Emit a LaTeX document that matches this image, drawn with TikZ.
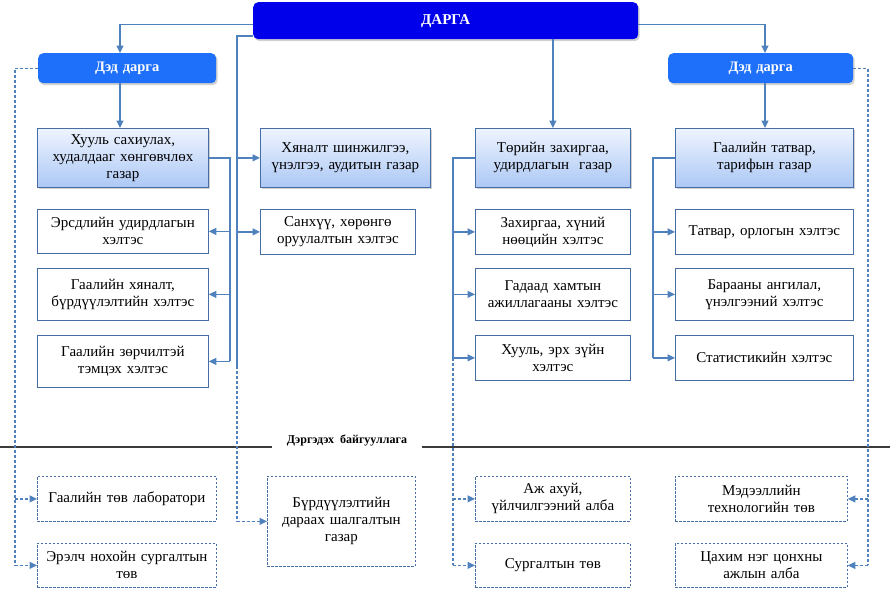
\documentclass[tikz,border=0pt]{standalone}
\usepackage{fontspec}
\setmainfont{Liberation Serif}
\usetikzlibrary{arrows.meta,shadows,calc}
\definecolor{linec}{RGB}{79,129,189}
\definecolor{boxb}{RGB}{70,110,165}
\definecolor{dargac}{RGB}{0,0,235}
\definecolor{dedc}{RGB}{30,112,250}
\definecolor{gtop}{RGB}{238,244,255}
\definecolor{gbot}{RGB}{172,200,245}
\definecolor{rulec}{RGB}{60,60,60}
\begin{document}
\begin{tikzpicture}[x=1pt,y=-1pt,
  every node/.style={inner xsep=0pt, inner ysep=2pt, align=center, anchor=north west,
    font=\fontsize{15}{17}\selectfont},
  sz/.style 2 args={text width=#1pt, minimum height=#2pt},
  shad/.style={drop shadow={opacity=0.3, fill=black!60, shadow xshift=1.5pt, shadow yshift=-2pt}},
  boss/.style={rounded corners=5pt, fill=dargac, text=white, shad,
    font=\bfseries\fontsize{15}{17}\selectfont},
  dep/.style={rounded corners=5pt, fill=dedc, text=white, shad,
    font=\bfseries\fontsize{14.5}{16}\selectfont},
  head/.style={draw=boxb, line width=0.8pt, top color=gtop, bottom color=gbot, shad},
  unit/.style={draw=boxb, line width=0.8pt, fill=white},
  aff/.style={draw=boxb, line width=0.8pt, fill=white, dash pattern=on 2.5pt off 1.5pt},
  line/.style={draw=linec, line width=1.2pt},
  dline/.style={line, dash pattern=on 3pt off 2pt},
  tip/.style={-{Triangle[length=7.5pt,width=7pt]}},
]
\useasboundingbox (0,0) rectangle (890,598);

% top level
\node[boss, sz={385}{37}] (darga) at (253,2) {ДАРГА};
\node[dep, sz={178}{30}] (dd1) at (38,53) {Дэд дарга};
\node[dep, sz={185}{30}] (dd2) at (668,53) {Дэд дарга};

% departments
\node[head, sz={171}{59}] (hs) at (37,128) {Хууль сахиулах,\\ худалдааг хөнгөвчлөх\\ газар};
\node[head, sz={170}{59}] (hz) at (260,128) {Хяналт шинжилгээ,\\ үнэлгээ, аудитын газар};
\node[head, sz={155}{59}] (tz) at (475,128) {Төрийн захиргаа,\\ удирдлагын\ \ газар};
\node[head, sz={178}{59}] (gt) at (675,128) {Гаалийн татвар,\\ тарифын газар};

% divisions
\node[unit, sz={171}{44}] (er) at (37,209) {Эрсдлийн удирдлагын\\ хэлтэс};
\node[unit, sz={155}{45}] (sh) at (260,209) {Санхүү, хөрөнгө\\ оруулалтын хэлтэс};
\node[unit, sz={155}{45}] (zx) at (475,209) {Захиргаа, хүний\\ нөөцийн хэлтэс};
\node[unit, sz={178}{45}] (to) at (675,209) {Татвар, орлогын хэлтэс};
\node[unit, sz={171}{52}] (gh) at (37,268) {Гаалийн хяналт,\\ бүрдүүлэлтийн хэлтэс};
\node[unit, sz={155}{52}] (gd) at (475,268) {Гадаад хамтын\\ ажиллагааны хэлтэс};
\node[unit, sz={178}{52}] (ba) at (675,268) {Барааны ангилал,\\ үнэлгээний хэлтэс};
\node[unit, sz={171}{52}] (zg) at (37,335) {Гаалийн зөрчилтэй\\ тэмцэх хэлтэс};
\node[unit, sz={155}{45}] (hx) at (475,335) {Хууль, эрх зүйн\\ хэлтэс};
\node[unit, sz={178}{45}] (st) at (675,335) {Статистикийн хэлтэс};

% separator
\node[anchor=center, inner xsep=15pt, font=\bfseries\fontsize{12}{14}\selectfont] (dg) at (347,440) {Дэргэдэх\ \ байгууллага};
\coordinate (rl) at (0,447);
\coordinate (rr) at (890,447);
\draw[rulec, line width=1.2pt] (rl) -- (rl -| dg.west);
\draw[rulec, line width=1.2pt] (rr -| dg.east) -- (rr);

% affiliated
\node[aff, sz={179}{45}] (lab) at (37,476) {Гаалийн төв лаборатори};
\node[aff, sz={179}{44}] (erl) at (37,543) {Эрэлч нохойн сургалтын\\ төв};
\node[aff, sz={148}{90}] (bd) at (267,476) {Бүрдүүлэлтийн\\ дараах шалгалтын\\ газар};
\node[aff, sz={155}{45}] (aa) at (475,476) {Аж ахуй,\\ үйлчилгээний алба};
\node[aff, sz={155}{44}] (sg) at (475,543) {Сургалтын төв};
\node[aff, sz={172}{45}] (md) at (675,476) {Мэдээллийн\\ технологийн төв};
\node[aff, sz={172}{44}] (cx) at (675,543) {Цахим нэг цонхны\\ ажлын алба};

% connector columns
\coordinate (cL) at (120,0);
\coordinate (cR) at (765,0);
\coordinate (t1) at (237,36);
\coordinate (t1e) at (237,366);
\coordinate (t2) at (230,0);
\coordinate (t3) at (453,0);
\coordinate (t4) at (653,0);
\coordinate (t5) at (15,0);
\coordinate (t6) at (868,0);

% from the head
\draw[line, tip] ([yshift=-3.5pt]darga.west) -| (cL |- dd1.north);
\draw[line, tip] ([yshift=-3.5pt]darga.east) -| (cR |- dd2.north);
\draw[line, tip] (darga.south -| tz.north) -- (tz.north);
\draw[line, tip] (cL |- dd1.south) -- (cL |- hs.north);
\draw[line, tip] (cR |- dd2.south) -- (cR |- gt.north);

% head trunk
\draw[line] (darga.west |- t1) -- (t1) -- (t1e);
\draw[dline, tip] (t1e) |- (bd.west);
\draw[line, tip] (t1 |- hz.west) -- (hz.west);
\draw[line, tip] (t1 |- sh.west) -- (sh.west);

% Хууль сахиулах trunk
\draw[line] (hs.east) -| (t2 |- zg.east);
\draw[line, tip] (t2 |- er.east) -- (er.east);
\draw[line, tip] (t2 |- gh.east) -- (gh.east);
\draw[line, tip] (t2 |- zg.east) -- (zg.east);

% Төрийн захиргаа trunk
\draw[line] (tz.west) -| (t3 |- hx.west);
\draw[dline] (t3 |- hx.west) -- (t3 |- sg.west);
\draw[line, tip] (t3 |- zx.west) -- (zx.west);
\draw[line, tip] (t3 |- gd.west) -- (gd.west);
\draw[line, tip] (t3 |- hx.west) -- (hx.west);
\draw[dline, tip] (t3 |- aa.west) -- (aa.west);
\draw[dline, tip] (t3 |- sg.west) -- (sg.west);

% Гаалийн татвар trunk
\draw[line] (gt.west) -| (t4 |- st.west);
\draw[line, tip] (t4 |- to.west) -- (to.west);
\draw[line, tip] (t4 |- ba.west) -- (ba.west);
\draw[line, tip] (t4 |- st.west) -- (st.west);

% deputies' dashed trunks
\draw[dline] (dd1.west) -| (t5 |- erl.west);
\draw[dline, tip] (t5 |- lab.west) -- (lab.west);
\draw[dline, tip] (t5 |- erl.west) -- (erl.west);
\draw[dline] (dd2.east) -| (t6 |- cx.east);
\draw[dline, tip] (t6 |- md.east) -- (md.east);
\draw[dline, tip] (t6 |- cx.east) -- (cx.east);
\end{tikzpicture}
\end{document}
